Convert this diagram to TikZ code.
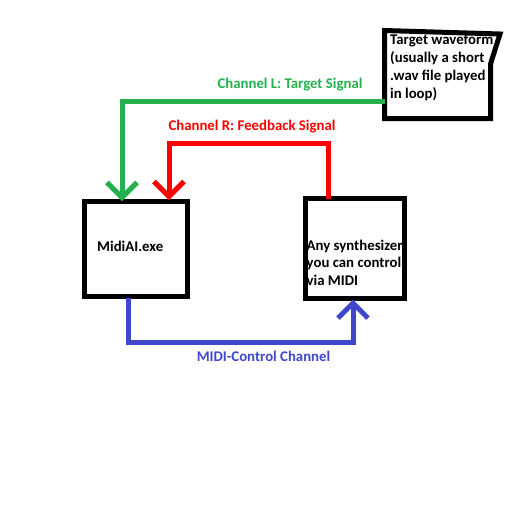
\documentclass[tikz,border=0pt]{standalone}
\usepackage{fontspec}
\setmainfont{Carlito}
\usetikzlibrary{arrows.meta,positioning}
\definecolor{paintgreen}{RGB}{34,177,76}
\definecolor{paintred}{RGB}{255,0,0}
\definecolor{paintblue}{RGB}{63,72,204}

\begin{document}
\begin{tikzpicture}[x=1pt,y=-1pt,>={Straight Barb[length=15pt,width=30pt]},
    box node/.style={draw,line width=5pt,inner sep=0pt},
    box text/.style={font=\fontsize{14.8}{17.8}\selectfont\bfseries,align=left,inner sep=0pt,anchor=north west},
    wire/.style={line width=5pt,->},
    wire label/.style={font=\fontsize{14.8}{17}\selectfont\bfseries,inner sep=0pt}]
    \useasboundingbox[fill=white] (0,0) rectangle (512,512);

    \node[box node,minimum width=103pt,minimum height=95pt] (midiai) at (136,249) {};
    \node[box node,minimum width=99pt,minimum height=100pt] (synth) at (355,248.5) {};
    \node[box text] (miditext) at (97,240.5) {MidiAI.exe};
    \node[box text] (synthtext) at (306.5,239.5) {Any synthesizer\\you can control\\via MIDI};

    % target box, drawn by hand with its slanted corner
    \draw[line width=5pt,line join=miter] (384.5,30.5) -- (500,34) -- (490.5,64) -- (490.5,118.5) -- (384.5,118.5) -- cycle;
    \node[box text] (target) at (390,34.5) {Target waveform\\(usually a short\\.wav file played\\in loop)};
    \coordinate (targetin) at (384.5,101);

    \draw[wire,paintgreen] (targetin) -| ([xshift=-14pt,yshift=-2pt]midiai.north);
    \draw[wire,paintred] ([xshift=-27pt,yshift=-3pt]synth.north) -- ++(0,-55.5) -| ([xshift=33pt,yshift=-1pt]midiai.north);
    \draw[wire,paintblue] ([xshift=-8pt,yshift=1.5pt]midiai.south) -- ++(0,45) -| ([xshift=-2pt,yshift=1.5pt]synth.south);

    \node[wire label,text=paintgreen] (greenlabel) at (290,85) {Channel L: Target Signal};
    \node[wire label,text=paintred] (redlabel) at (252,127) {Channel R: Feedback Signal};
    \node[wire label,text=paintblue] (bluelabel) at (263.5,356) {MIDI-Control Channel};
\end{tikzpicture}
\end{document}
